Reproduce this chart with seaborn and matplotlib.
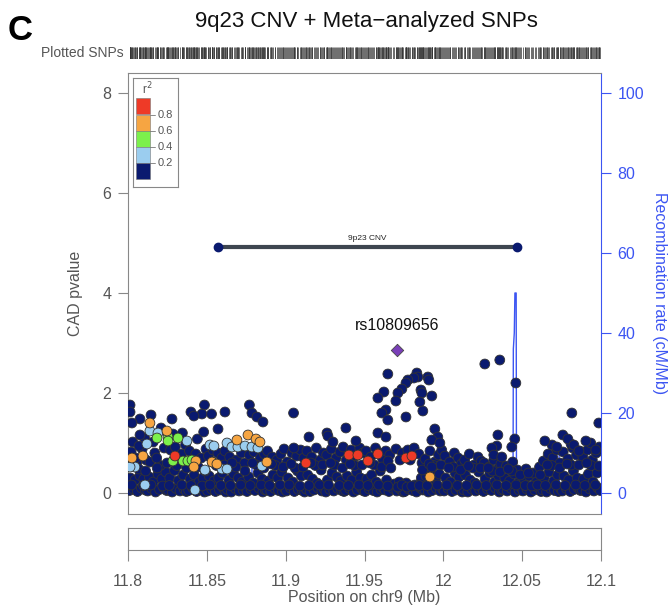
import numpy as np
import pandas as pd
import seaborn as sns
import matplotlib
matplotlib.use("Agg")
import matplotlib.pyplot as plt
from matplotlib.patches import Rectangle

sns.set_style("white")
plt.rcParams['font.family'] = ['Liberation Sans', 'DejaVu Sans']

# ---------------- data ----------------
title = "9q23 CNV + Meta\u2212analyzed SNPs"
x_ticks = [11.8, 11.85, 11.9, 11.95, 12.0, 12.05, 12.1]
x_tick_labels = ["11.8", "11.85", "11.9", "11.95", "12", "12.05", "12.1"]
y_ticks = [0, 2, 4, 6, 8]
recomb_ticks = [0, 20, 40, 60, 80, 100]
ld_labels = ["0.8", "0.6", "0.4", "0.2"]

# r2 < 0.2 (navy) SNPs: dense band
navy_pos = [
    11.8010, 11.8035, 11.8060, 11.8085, 11.8110, 11.8015, 11.8045, 11.8075, 11.8100, 11.8020, 11.8055, 11.8090, 11.8115, 11.8030, 11.8070, 11.8105,
    11.8125, 11.8150, 11.8175, 11.8200, 11.8225, 11.8245, 11.8135, 11.8160, 11.8190, 11.8215, 11.8240, 11.8140, 11.8170, 11.8205, 11.8230, 11.8160, 11.8210,
    11.8255, 11.8280, 11.8305, 11.8330, 11.8355, 11.8370, 11.8265, 11.8295, 11.8320, 11.8350, 11.8270, 11.8300, 11.8340, 11.8365, 11.8285, 11.8345,
    11.8385, 11.8410, 11.8435, 11.8460, 11.8485, 11.8395, 11.8420, 11.8450, 11.8475, 11.8390, 11.8430, 11.8465, 11.8495, 11.8440, 11.8480,
    11.8505, 11.8530, 11.8555, 11.8580, 11.8605, 11.8620, 11.8515, 11.8545, 11.8575, 11.8600, 11.8510, 11.8540, 11.8570, 11.8595, 11.8615,
    11.8630, 11.8655, 11.8680, 11.8705, 11.8730, 11.8745, 11.8640, 11.8670, 11.8700, 11.8725, 11.8645, 11.8690, 11.8720, 11.8740,
    11.8755, 11.8780, 11.8805, 11.8830, 11.8855, 11.8870, 11.8765, 11.8795, 11.8825, 11.8850, 11.8770, 11.8800, 11.8840, 11.8865,
    11.8880, 11.8905, 11.8930, 11.8955, 11.8980, 11.8995, 11.8890, 11.8920, 11.8950, 11.8975, 11.8885, 11.8915, 11.8945, 11.8970, 11.8990,
    11.9005, 11.9030, 11.9055, 11.9080, 11.9105, 11.9120, 11.9015, 11.9045, 11.9075, 11.9100, 11.9010, 11.9040, 11.9070, 11.9095, 11.9115,
    11.9130, 11.9155, 11.9180, 11.9205, 11.9230, 11.9245, 11.9140, 11.9170, 11.9200, 11.9225, 11.9135, 11.9165, 11.9195, 11.9220, 11.9240,
    11.9255, 11.9280, 11.9305, 11.9330, 11.9355, 11.9370, 11.9265, 11.9295, 11.9325, 11.9350, 11.9260, 11.9290, 11.9320, 11.9345, 11.9365,
    11.9380, 11.9405, 11.9430, 11.9455, 11.9480, 11.9495, 11.9390, 11.9420, 11.9450, 11.9475, 11.9385, 11.9415, 11.9445, 11.9470, 11.9490,
    11.9505, 11.9530, 11.9555, 11.9580, 11.9605, 11.9620, 11.9515, 11.9545, 11.9575, 11.9600, 11.9510, 11.9540, 11.9570, 11.9595, 11.9615,
    11.9630, 11.9655, 11.9680, 11.9705, 11.9730, 11.9745, 11.9640, 11.9690, 11.9720, 11.9635, 11.9660, 11.9700, 11.9740,
    11.9755, 11.9780, 11.9805, 11.9830, 11.9855, 11.9870, 11.9765, 11.9820, 11.9860, 11.9775, 11.9815, 11.9845, 11.9865,
    11.9880, 11.9905, 11.9930, 11.9955, 11.9980, 11.9995, 11.9890, 11.9920, 11.9950, 11.9975, 11.9885, 11.9915, 11.9945, 11.9970, 11.9990,
    12.0005, 12.0030, 12.0055, 12.0080, 12.0105, 12.0120, 12.0015, 12.0045, 12.0075, 12.0100, 12.0010, 12.0040, 12.0070, 12.0095, 12.0115,
    12.0130, 12.0155, 12.0180, 12.0205, 12.0230, 12.0245, 12.0140, 12.0170, 12.0200, 12.0225, 12.0135, 12.0165, 12.0195, 12.0220, 12.0240,
    12.0255, 12.0280, 12.0305, 12.0330, 12.0355, 12.0370, 12.0265, 12.0295, 12.0325, 12.0350, 12.0260, 12.0290, 12.0320, 12.0345, 12.0365,
    12.0380, 12.0405, 12.0430, 12.0455, 12.0480, 12.0495, 12.0390, 12.0420, 12.0450, 12.0475, 12.0400, 12.0440, 12.0470,
    12.0505, 12.0530, 12.0555, 12.0580, 12.0605, 12.0620, 12.0515, 12.0545, 12.0590, 12.0525, 12.0570, 12.0610,
    12.0630, 12.0655, 12.0680, 12.0705, 12.0730, 12.0745, 12.0640, 12.0670, 12.0700, 12.0725, 12.0635, 12.0665, 12.0695, 12.0720, 12.0740, 12.0690,
    12.0755, 12.0780, 12.0805, 12.0830, 12.0855, 12.0870, 12.0765, 12.0795, 12.0825, 12.0850, 12.0760, 12.0790, 12.0820, 12.0845, 12.0865, 12.0810,
    12.0880, 12.0905, 12.0930, 12.0955, 12.0980, 12.0995, 12.0890, 12.0920, 12.0950, 12.0975, 12.0885, 12.0915, 12.0945, 12.0970, 12.0990, 12.0935,
]
navy_p = [
    0.05, 0.08, 0.03, 0.10, 0.06, 0.30, 0.26, 0.35, 0.28, 0.82, 0.60, 0.88, 0.66, 1.02, 0.94, 1.10,
    0.04, 0.09, 0.02, 0.07, 0.11, 0.05, 0.32, 0.22, 0.38, 0.28, 0.42, 0.62, 0.80, 0.55, 0.90, 1.02, 1.30,
    0.06, 0.02, 0.09, 0.04, 0.08, 0.03, 0.30, 0.45, 0.25, 0.36, 0.86, 0.92, 0.78, 0.96, 1.18, 1.20,
    0.05, 0.10, 0.03, 0.07, 0.02, 0.28, 0.36, 0.22, 0.30, 0.84, 0.78, 0.70, 0.88, 1.08, 1.22,
    0.04, 0.08, 0.03, 0.06, 0.10, 0.02, 0.34, 0.24, 0.30, 0.40, 0.74, 0.86, 0.80, 0.70, 0.84,
    0.07, 0.02, 0.09, 0.04, 0.06, 0.11, 0.26, 0.38, 0.30, 0.22, 0.72, 0.66, 0.80, 0.60,
    0.03, 0.08, 0.05, 0.10, 0.02, 0.06, 0.32, 0.20, 0.40, 0.28, 0.76, 0.82, 0.70, 0.78,
    0.06, 0.03, 0.09, 0.05, 0.02, 0.08, 0.24, 0.36, 0.30, 0.42, 0.84, 0.72, 0.66, 0.78, 0.88,
    0.04, 0.10, 0.03, 0.07, 0.05, 0.02, 0.30, 0.22, 0.44, 0.34, 0.62, 0.80, 0.74, 0.86, 0.70,
    0.08, 0.03, 0.06, 0.10, 0.04, 0.07, 0.36, 0.28, 0.20, 0.46, 0.84, 0.72, 0.90, 0.66, 0.80,
    0.02, 0.07, 0.04, 0.09, 0.05, 0.03, 0.26, 0.40, 0.32, 0.24, 0.76, 0.88, 0.70, 0.82, 0.92,
    0.05, 0.09, 0.02, 0.06, 0.10, 0.04, 0.34, 0.26, 0.42, 0.30, 0.66, 0.86, 0.74, 0.90, 0.80,
    0.03, 0.08, 0.05, 0.02, 0.07, 0.10, 0.28, 0.36, 0.22, 0.44, 0.84, 0.72, 0.90, 0.80, 0.68,
    0.06, 0.03, 0.09, 0.04, 0.07, 0.02, 0.26, 0.18, 0.22, 0.84, 0.76, 0.88, 0.80,
    0.03, 0.08, 0.05, 0.02, 0.10, 0.06, 0.20, 0.16, 0.30, 0.86, 0.90, 0.78, 0.60,
    0.07, 0.02, 0.05, 0.09, 0.04, 0.08, 0.34, 0.44, 0.26, 0.38, 0.68, 0.84, 0.62, 0.76, 0.86,
    0.04, 0.09, 0.03, 0.06, 0.10, 0.02, 0.30, 0.22, 0.40, 0.32, 0.74, 0.62, 0.80, 0.70, 0.58,
    0.06, 0.02, 0.08, 0.04, 0.07, 0.10, 0.36, 0.26, 0.20, 0.42, 0.66, 0.78, 0.56, 0.72, 0.64,
    0.03, 0.08, 0.05, 0.10, 0.02, 0.06, 0.28, 0.40, 0.22, 0.34, 0.60, 0.52, 0.66, 0.48, 0.58,
    0.07, 0.04, 0.09, 0.02, 0.06, 0.10, 0.30, 0.24, 0.38, 0.20, 0.54, 0.62, 0.46,
    0.04, 0.08, 0.02, 0.06, 0.10, 0.03, 0.26, 0.34, 0.22, 0.48, 0.40, 0.52,
    0.06, 0.02, 0.09, 0.05, 0.03, 0.08, 0.30, 0.42, 0.24, 0.36, 0.64, 0.78, 0.70, 0.86, 0.60, 0.96,
    0.04, 0.09, 0.03, 0.07, 0.10, 0.05, 0.34, 0.26, 0.44, 0.30, 0.82, 0.68, 0.90, 0.76, 0.84, 0.98,
    0.06, 0.02, 0.08, 0.04, 0.10, 0.05, 0.28, 0.38, 0.22, 0.40, 0.72, 0.86, 0.66, 0.80, 0.92, 1.00,
]

# more navy SNPs filling the band
fill_pos = [
    11.8022, 11.8068, 11.8098, 11.8048, 11.8112, 11.8145, 11.8185, 11.8220, 11.8182, 11.8248,
    11.8262, 11.8310, 11.8342, 11.8290, 11.8372, 11.8400, 11.8445, 11.8470, 11.8412, 11.8490,
    11.8520, 11.8560, 11.8590, 11.8535, 11.8610, 11.8650, 11.8685, 11.8715, 11.8660, 11.8742,
    11.8775, 11.8815, 11.8845, 11.8790, 11.8862, 11.8898, 11.8935, 11.8965, 11.8910, 11.8985,
    11.9022, 11.9060, 11.9090, 11.9035, 11.9110, 11.9148, 11.9188, 11.9215, 11.9160, 11.9235,
    11.9272, 11.9310, 11.9340, 11.9285, 11.9360, 11.9398, 11.9438, 11.9465, 11.9410, 11.9485,
    11.9522, 11.9562, 11.9590, 11.9535, 11.9610, 11.9648, 11.9712, 11.9738, 11.9650, 11.9725,
    11.9770, 11.9800, 11.9848, 11.9790, 11.9868, 11.9898, 11.9938, 11.9962, 11.9910, 11.9985,
    12.0022, 12.0062, 12.0090, 12.0035, 12.0110, 12.0148, 12.0188, 12.0212, 12.0160, 12.0236,
    12.0272, 12.0312, 12.0340, 12.0285, 12.0360, 12.0398, 12.0435, 12.0462, 12.0412, 12.0488,
    12.0520, 12.0562, 12.0598, 12.0540, 12.0615, 12.0648, 12.0688, 12.0715, 12.0660, 12.0738,
    12.0772, 12.0812, 12.0840, 12.0785, 12.0860, 12.0898, 12.0938, 12.0965, 12.0910, 12.0988,
]
fill_p = [
    0.16, 0.48, 0.15, 0.70, 0.44, 0.16, 0.50, 0.14, 0.70, 0.60,
    0.15, 0.55, 0.16, 0.66, 0.50, 0.15, 0.52, 0.14, 0.58, 0.44,
    0.16, 0.55, 0.15, 0.62, 0.56, 0.15, 0.52, 0.16, 0.60, 0.44,
    0.15, 0.56, 0.16, 0.60, 0.50, 0.15, 0.55, 0.16, 0.58, 0.52,
    0.16, 0.50, 0.14, 0.58, 0.52, 0.15, 0.55, 0.16, 0.60, 0.56,
    0.16, 0.56, 0.15, 0.60, 0.50, 0.15, 0.55, 0.16, 0.58, 0.56,
    0.15, 0.56, 0.16, 0.60, 0.52, 0.14, 0.12, 0.16, 0.64, 0.66,
    0.12, 0.14, 0.15, 0.66, 0.46, 0.15, 0.55, 0.16, 0.58, 0.56,
    0.16, 0.52, 0.15, 0.50, 0.46, 0.15, 0.50, 0.16, 0.54, 0.50,
    0.15, 0.44, 0.16, 0.50, 0.42, 0.15, 0.44, 0.16, 0.48, 0.36,
    0.15, 0.14, 0.16, 0.40, 0.36, 0.15, 0.55, 0.16, 0.56, 0.50,
    0.15, 0.56, 0.16, 0.58, 0.56, 0.15, 0.55, 0.16, 0.60, 0.54,
]

# r2 < 0.2 (navy) SNPs above the band
upper_pos = [
    11.8013, 11.8013, 11.8146, 11.8076, 11.8025, 11.8279, 11.8485, 11.8399, 11.8469, 11.8076, 11.8418, 11.8530,
    11.8615, 11.8770, 11.8786, 11.8818, 11.8856, 11.8571, 11.9050, 11.9148, 11.9262, 11.9268, 11.9382, 11.9446,
    11.9300, 11.9052,
    11.9648, 11.9832, 11.9839, 11.9813, 11.9775, 11.9763, 11.9737, 11.9712, 11.9699, 11.9623, 11.9585, 11.9858,
    11.9864, 11.9902, 11.9908, 11.9851, 11.9870, 11.9636, 11.9610, 11.9648, 11.9763, 11.9585, 11.9636, 11.9946,
    11.9965, 11.9927, 11.9978, 11.9667, 11.9927, 11.9927,
    12.0263, 12.0358, 12.0460, 12.0346, 12.0339, 12.0308, 12.0320, 12.0371, 12.0453, 12.0434,
    12.0815, 12.0986, 12.0644, 12.0758, 12.0790, 12.0904, 12.0967, 12.0720, 12.0828, 12.0860,
]
upper_p = [
    1.76, 1.62, 1.56, 1.48, 1.40, 1.48, 1.76, 1.62, 1.58, 1.16, 1.54, 1.58,
    1.62, 1.76, 1.60, 1.52, 1.42, 1.28, 1.60, 1.12, 1.20, 1.14, 1.30, 1.04,
    1.02, 0.90,
    2.38, 2.40, 2.32, 2.30, 2.26, 2.20, 2.08, 2.00, 1.84, 2.02, 1.90, 2.06,
    2.00, 2.32, 2.26, 1.82, 1.64, 1.66, 1.60, 1.46, 1.52, 1.20, 1.12, 1.28,
    1.12, 1.06, 1.00, 0.50, 0.52, 1.94,
    2.58, 2.66, 2.20, 1.16, 0.94, 0.90, 0.76, 0.72, 1.08, 0.92,
    1.60, 1.40, 1.04, 1.16, 1.08, 1.04, 0.86, 0.92, 0.96, 0.84,
]

lightblue_pos = [11.8139, 11.8190, 11.8374, 11.8120, 11.8044, 11.8013, 11.8108, 11.8425, 11.8488, 11.8628,
                 11.8659, 11.8697, 11.8742, 11.8786, 11.8824, 11.8520, 11.8596, 11.8628, 11.8850, 11.8545]
lightblue_p = [1.24, 1.20, 1.04, 0.98, 0.52, 0.52, 0.16, 0.06, 0.46, 1.00,
               0.92, 0.92, 0.94, 0.92, 0.90, 0.96, 0.48, 0.48, 0.54, 0.94]

green_pos = [11.8184, 11.8254, 11.8254, 11.8317, 11.8285, 11.8349, 11.8380, 11.8406]
green_p = [1.10, 1.12, 1.04, 1.10, 0.64, 0.64, 0.64, 0.66]

orange_pos = [11.8139, 11.8247, 11.8025, 11.8095, 11.8431, 11.8418, 11.8691, 11.8761, 11.8812, 11.8837,
              11.8533, 11.8564, 11.8881, 11.9915]
orange_p = [1.40, 1.24, 0.70, 0.74, 0.64, 0.52, 1.06, 1.16, 1.08, 1.02,
            0.62, 0.58, 0.62, 0.32]

red_pos = [11.8298, 11.9129, 11.9401, 11.9458, 11.9522, 11.9585, 11.9763, 11.9801]
red_p = [0.74, 0.60, 0.76, 0.76, 0.64, 0.78, 0.70, 0.74]

lead_snp = "rs10809656"
lead_pos = [11.9706]
lead_p = [2.86]

cnv_name = "9p23 CNV"
cnv_start = 11.857
cnv_end = 12.0467
cnv_p = 4.92

recomb_pos = [11.800, 11.8785, 11.8787, 11.8950, 11.8952, 12.0442, 12.0444, 12.0450,
              12.0454, 12.0462, 12.0464, 12.0470, 12.0714, 12.0716, 12.0734, 12.0736, 12.100]
recomb_rate = [0.5, 0.5, 8.5, 8.5, 0.4, 0.4, 36.0, 40.0,
               50.0, 50.0, 3.0, 0.8, 0.8, 10.0, 10.0, 0.3, 0.3]

# ---------------- styling ----------------
ld_colors = {"navy": "#0A1A6F", "lightblue": "#9BCDEF", "green": "#7CF04C",
             "orange": "#F6A542", "red": "#EE3A27"}
recomb_color = "#3C55F2"
grey = "#555555"
W, H = 670, 605

df = pd.concat([
    pd.DataFrame({"pos": navy_pos + fill_pos + upper_pos,
                  "p": navy_p + fill_p + upper_p, "ld": "navy"}),
    pd.DataFrame({"pos": lightblue_pos, "p": lightblue_p, "ld": "lightblue"}),
    pd.DataFrame({"pos": green_pos, "p": green_p, "ld": "green"}),
    pd.DataFrame({"pos": orange_pos, "p": orange_p, "ld": "orange"}),
    pd.DataFrame({"pos": red_pos, "p": red_p, "ld": "red"}),
], ignore_index=True)

fig = plt.figure(figsize=(W / 100, H / 100), dpi=100)

def fax(x0, y0, x1, y1):
    return fig.add_axes([x0 / W, 1 - y1 / H, (x1 - x0) / W, (y1 - y0) / H])

ax = fax(128, 73, 601, 514)
ax2 = ax.twinx()
ax.set_zorder(ax2.get_zorder() + 1)
ax.patch.set_visible(False)

xlim = (11.8, 12.1)
ylim = (-0.42, 8.4)
ax.set_xlim(*xlim)
ax.set_ylim(*ylim)
ax2.set_ylim(ylim[0] * 12.5, ylim[1] * 12.5)

# recombination line
sns.lineplot(x=recomb_pos, y=recomb_rate, ax=ax2, color=recomb_color, lw=1.0,
             estimator=None, sort=False)

# SNPs
sns.scatterplot(data=df, x="pos", y="p", hue="ld", palette=ld_colors, ax=ax,
                s=50, edgecolor="#333333", linewidth=0.6, legend=False, zorder=3)
sns.scatterplot(x=lead_pos, y=lead_p, marker="D", color="#7A3FB8", s=40,
                edgecolor="#444444", linewidth=0.6, ax=ax, zorder=4, legend=False)
ax.text(lead_pos[0], lead_p[0] + 0.33, lead_snp, ha="center", va="bottom",
        fontsize=11.5, color="#111111")

# CNV segment
ax.plot([cnv_start, cnv_end], [cnv_p, cnv_p], color="#3E4650", lw=3, zorder=2,
        solid_capstyle="butt")
ax.plot([cnv_start, cnv_end], [cnv_p, cnv_p], ls="none", marker="o", ms=6,
        color="#0A1A6F", zorder=3)
ax.text((cnv_start + cnv_end) / 2, cnv_p + 0.1, cnv_name, ha="center", va="bottom",
        fontsize=6, color="#222222")

# axes styling
for s in ["top", "bottom", "left"]:
    ax.spines[s].set_color("#888888")
    ax.spines[s].set_linewidth(0.8)
ax.spines["right"].set_visible(False)
for s in ["top", "bottom", "left"]:
    ax2.spines[s].set_visible(False)
ax2.spines["right"].set_color(recomb_color)
ax2.spines["right"].set_linewidth(0.8)

ax.set_xticks([])
ax.set_yticks(y_ticks)
ax.set_yticklabels([str(t) for t in y_ticks])
ax.tick_params(axis="y", left=True, length=7, width=0.8, color="#888888",
               labelcolor=grey, labelsize=11.5, pad=5)
ax.set_xlabel("")
ax.set_ylabel("CAD pvalue", fontsize=11.5, color=grey, labelpad=14)

ax2.set_yticks(recomb_ticks)
ax2.set_yticklabels([str(t) for t in recomb_ticks])
ax2.tick_params(axis="y", right=True, length=7, width=0.8, color=recomb_color,
                labelcolor=recomb_color, labelsize=11.5, pad=5)
ax2.set_ylabel("Recombination rate (cM/Mb)", fontsize=11.5, color=recomb_color,
               rotation=270, labelpad=16)
ax2.set_xlabel("")

# LD legend
lax = fax(133, 78, 178, 187)
lax.set_xlim(133, 178)
lax.set_ylim(187, 78)
lax.set_xticks([]); lax.set_yticks([])
for s in lax.spines.values():
    s.set_color("#888888"); s.set_linewidth(0.8)
cells = [("red", 98), ("orange", 115), ("green", 131), ("lightblue", 147), ("navy", 163)]
for name, top in cells:
    lax.add_patch(Rectangle((136, top), 13.5, 16, facecolor=ld_colors[name],
                            edgecolor="#777777", lw=0.4))
for lab, yb in zip(ld_labels, [115, 131, 147, 163]):
    lax.plot([149.5, 155], [yb, yb], color="#777777", lw=0.6)
    lax.text(158, yb, lab, fontsize=8, color=grey, va="center", ha="left")
lax.text(147, 89, "r$^2$", fontsize=8.5, color=grey, ha="center", va="center")

# gene panel with x axis
gax = fax(128, 528, 601, 550)
gax.set_xlim(*xlim)
gax.set_yticks([])
gax.set_xticks(x_ticks)
gax.set_xticklabels(x_tick_labels)
gax.tick_params(axis="x", bottom=True, length=8, width=0.8, color="#888888",
                labelcolor=grey, labelsize=11.5, pad=9)
for s in gax.spines.values():
    s.set_color("#888888"); s.set_linewidth(0.8)
gax.set_xlabel("Position on chr9 (Mb)", fontsize=11.5, color=grey, labelpad=1)

# plotted SNPs rug
rax = fax(128, 47, 601, 59)
rax.set_xlim(*xlim)
rax.set_ylim(0, 1)
all_pos = list(df["pos"]) + lead_pos
rax.vlines(all_pos, 0, 1, color="#333333", lw=0.5)
rax.axis("off")
fig.text(124 / W, 1 - 53 / H, "Plotted SNPs", ha="right", va="center",
         fontsize=10, color=grey)

fig.text(366 / W, 1 - 22 / H, title, ha="center", va="center", fontsize=16,
         color="#111111")
fig.text(8 / W, 1 - 31 / H, "C", ha="left", va="center", fontsize=25,
         fontweight="bold", color="black")

fig.savefig("out.png", dpi=100)
